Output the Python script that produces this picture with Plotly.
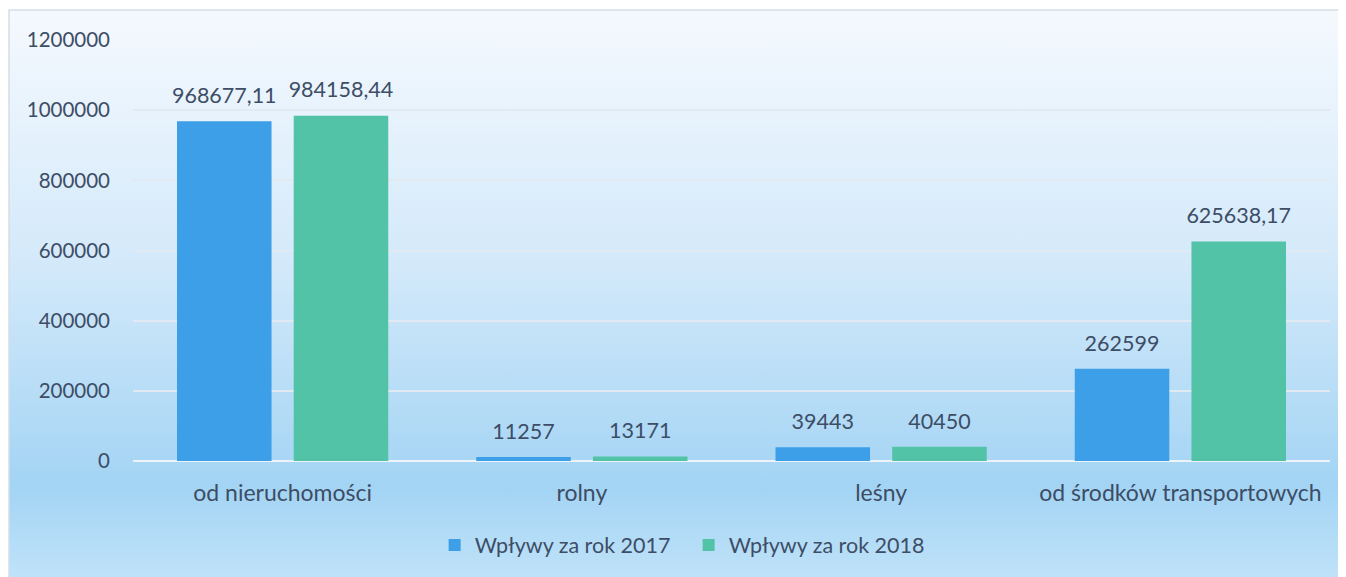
import base64
import plotly.graph_objects as go

categories = ["od nieruchomości", "rolny", "leśny", "od środków transportowych"]
values_2017 = [968677.11, 11257, 39443, 262599]
values_2018 = [984158.44, 13171, 40450, 625638.17]
labels_2017 = ["968677,11", "11257", "39443", "262599"]
labels_2018 = ["984158,44", "13171", "40450", "625638,17"]
series_names = ["Wpływy za rok 2017", "Wpływy za rok 2018"]
y_ticks = [0, 200000, 400000, 600000, 800000, 1000000, 1200000]

# page body has an 8px margin
W, H = 1338, 569
ML, MR, MT, MB = 125, 16, 32, 116
PW, PH = W - ML - MR, H - MT - MB

FONT = "Lato"
TXT = "#3d4d66"
BLUE = "#3d9fe8"
GREEN = "#52c3a6"
GAP = 0.22

svg = """<svg xmlns='http://www.w3.org/2000/svg' width='100' height='100' preserveAspectRatio='none'>
<defs><linearGradient id='g' x1='0' y1='0' x2='0' y2='1'>
<stop offset='0' stop-color='#f5f9fe'/>
<stop offset='0.45' stop-color='#d3e9fa'/>
<stop offset='0.84' stop-color='#a3d4f4'/>
<stop offset='1' stop-color='#bfe2f9'/>
</linearGradient></defs>
<rect width='100' height='100' fill='url(#g)'/></svg>"""
bg_src = "data:image/svg+xml;base64," + base64.b64encode(svg.encode()).decode()

x0 = (1 - ML) / PW
x1 = (W - ML) / PW
y0 = -MB / PH
y1 = 1 + (MT - 2) / PH

fig = go.Figure()
for name, vals, col in [(series_names[0], values_2017, BLUE),
                        (series_names[1], values_2018, GREEN)]:
    fig.add_trace(go.Bar(
        x=categories, y=vals, name=name,
        marker=dict(color=col, line=dict(width=0)),
        hoverinfo="x+y",
    ))
for vals, labs in [(values_2017, labels_2017), (values_2018, labels_2018)]:
    fig.add_trace(go.Scatter(
        x=categories, y=vals, text=labs, mode="markers+text",
        textposition="top center",
        textfont=dict(family=FONT, size=21.5, color=TXT),
        marker=dict(size=19, opacity=0),
        showlegend=False, hoverinfo="skip", cliponaxis=False,
    ))

fig.update_layout(
    width=W, height=H,
    margin=dict(l=ML, r=MR, t=MT, b=MB, pad=0),
    paper_bgcolor="white",
    plot_bgcolor="rgba(0,0,0,0)",
    barmode="group",
    bargap=GAP,
    bargroupgap=0.19,
    scattermode="group",
    scattergap=GAP,
    font=dict(family=FONT, size=20, color=TXT),
    showlegend=True,
    legend=dict(
        orientation="h", xref="container", x=0.5087, xanchor="center",
        yref="container", y=0.0562, yanchor="middle",
        font=dict(family=FONT, size=21.5, color=TXT),
        bgcolor="rgba(0,0,0,0)", itemwidth=30, tracegroupgap=0,
        entrywidth=209, entrywidthmode="pixels",
    ),
    images=[dict(
        source=bg_src, xref="paper", yref="paper",
        x=x0, y=y1, sizex=x1 - x0, sizey=y1 - y0,
        xanchor="left", yanchor="top", sizing="stretch", layer="below",
    )],
    shapes=[dict(
        type="rect", xref="paper", yref="paper",
        x0=x0, x1=x1 + 0.01, y0=y0 - 0.01, y1=y1,
        line=dict(color="#d5dde8", width=1.5), fillcolor="rgba(0,0,0,0)",
        layer="below",
    )],
)
fig.update_xaxes(
    showgrid=False, showline=False, ticks="", ticklabelstandoff=16,
    tickfont=dict(family=FONT, size=23, color=TXT),
)
fig.update_yaxes(
    range=[0, 1200000], tickvals=y_ticks, ticktext=[str(v) for v in y_ticks],
    showgrid=True, gridcolor="#e1e9f2", gridwidth=1.5,
    zeroline=True, zerolinecolor="#eef3f8", zerolinewidth=2,
    showline=False, ticks="", ticklabelstandoff=22,
    tickfont=dict(family=FONT, size=20.5, color=TXT),
)

fig.write_html("out.html")
